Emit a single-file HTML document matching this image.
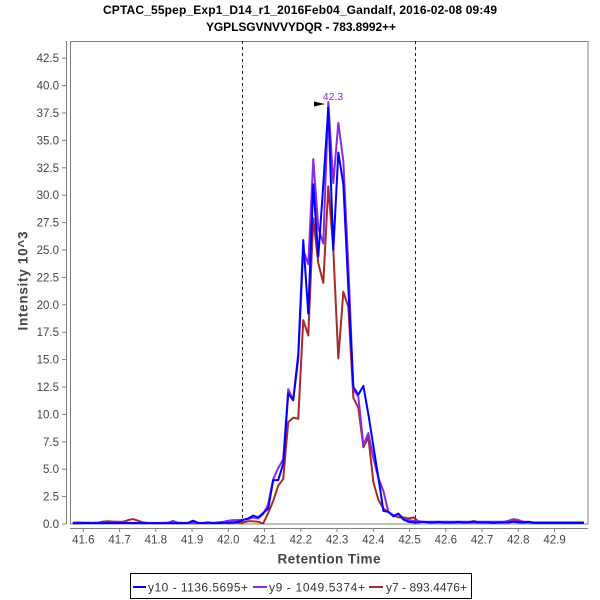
<!DOCTYPE html>
<html><head><meta charset="utf-8"><style>
html,body{margin:0;padding:0;background:#fff;}
svg{display:block;font-family:"Liberation Sans",sans-serif;}
</style></head><body>
<svg width="600" height="600" viewBox="0 0 600 600" xmlns="http://www.w3.org/2000/svg">
<rect width="600" height="600" fill="#fff"/>
<!-- titles -->
<text x="300" y="14" text-anchor="middle" font-size="12" font-weight="bold" fill="#000" textLength="394">CPTAC_55pep_Exp1_D14_r1_2016Feb04_Gandalf, 2016-02-08 09:49</text>
<text x="301" y="31" text-anchor="middle" font-size="12" font-weight="bold" fill="#000" textLength="190">YGPLSGVNVVYDQR - 783.8992++</text>

<!-- plot border -->
<rect x="70.5" y="41.5" width="517.5" height="482.5" fill="#fff" stroke="#808080" stroke-width="1"/>
<!-- axes -->
<line x1="66.5" y1="41" x2="66.5" y2="524" stroke="#808080" stroke-width="1"/>
<line x1="70" y1="528.5" x2="588" y2="528.5" stroke="#808080" stroke-width="1"/>

<!-- y ticks -->
<g stroke="#808080" stroke-width="1">
<line x1="62" x2="66" y1="524" y2="524"/><line x1="62" x2="66" y1="496.6" y2="496.6"/>
<line x1="62" x2="66" y1="469.2" y2="469.2"/><line x1="62" x2="66" y1="441.8" y2="441.8"/>
<line x1="62" x2="66" y1="414.4" y2="414.4"/><line x1="62" x2="66" y1="387" y2="387"/>
<line x1="62" x2="66" y1="359.6" y2="359.6"/><line x1="62" x2="66" y1="332.2" y2="332.2"/>
<line x1="62" x2="66" y1="304.8" y2="304.8"/><line x1="62" x2="66" y1="277.4" y2="277.4"/>
<line x1="62" x2="66" y1="250" y2="250"/><line x1="62" x2="66" y1="222.6" y2="222.6"/>
<line x1="62" x2="66" y1="195.2" y2="195.2"/><line x1="62" x2="66" y1="167.8" y2="167.8"/>
<line x1="62" x2="66" y1="140.4" y2="140.4"/><line x1="62" x2="66" y1="113" y2="113"/>
<line x1="62" x2="66" y1="85.6" y2="85.6"/><line x1="62" x2="66" y1="58.2" y2="58.2"/>
</g>
<g font-size="11.5" fill="#444" text-anchor="end">
<text x="59" y="528">0.0</text><text x="59" y="500.6">2.5</text>
<text x="59" y="473.2">5.0</text><text x="59" y="445.8">7.5</text>
<text x="59" y="418.4">10.0</text><text x="59" y="391">12.5</text>
<text x="59" y="363.6">15.0</text><text x="59" y="336.2">17.5</text>
<text x="59" y="308.8">20.0</text><text x="59" y="281.4">22.5</text>
<text x="59" y="254">25.0</text><text x="59" y="226.6">27.5</text>
<text x="59" y="199.2">30.0</text><text x="59" y="171.8">32.5</text>
<text x="59" y="144.4">35.0</text><text x="59" y="117">37.5</text>
<text x="59" y="89.6">40.0</text><text x="59" y="62.2">42.5</text>
</g>

<!-- x ticks -->
<g stroke="#808080" stroke-width="1">
<line x1="83.3" x2="83.3" y1="528" y2="532"/><line x1="119.55" x2="119.55" y1="528" y2="532"/>
<line x1="155.8" x2="155.8" y1="528" y2="532"/><line x1="192.05" x2="192.05" y1="528" y2="532"/>
<line x1="228.3" x2="228.3" y1="528" y2="532"/><line x1="264.55" x2="264.55" y1="528" y2="532"/>
<line x1="300.8" x2="300.8" y1="528" y2="532"/><line x1="337.05" x2="337.05" y1="528" y2="532"/>
<line x1="373.3" x2="373.3" y1="528" y2="532"/><line x1="409.55" x2="409.55" y1="528" y2="532"/>
<line x1="445.8" x2="445.8" y1="528" y2="532"/><line x1="482.05" x2="482.05" y1="528" y2="532"/>
<line x1="518.3" x2="518.3" y1="528" y2="532"/><line x1="554.55" x2="554.55" y1="528" y2="532"/>
</g>
<g font-size="11.5" fill="#444" text-anchor="middle">
<text x="83.3" y="543.5">41.6</text><text x="119.55" y="543.5">41.7</text>
<text x="155.8" y="543.5">41.8</text><text x="192.05" y="543.5">41.9</text>
<text x="228.3" y="543.5">42.0</text><text x="264.55" y="543.5">42.1</text>
<text x="300.8" y="543.5">42.2</text><text x="337.05" y="543.5">42.3</text>
<text x="373.3" y="543.5">42.4</text><text x="409.55" y="543.5">42.5</text>
<text x="445.8" y="543.5">42.6</text><text x="482.05" y="543.5">42.7</text>
<text x="518.3" y="543.5">42.8</text><text x="554.55" y="543.5">42.9</text>
</g>

<!-- axis titles -->
<text x="329" y="563.5" text-anchor="middle" font-size="13.5" font-weight="bold" fill="#444" textLength="103">Retention Time</text>
<text transform="translate(27.5,281) rotate(-90)" x="0" y="0" text-anchor="middle" font-size="13.5" font-weight="bold" fill="#444" textLength="99">Intensity 10^3</text>

<!-- dashed boundary lines -->
<line x1="242.5" y1="41" x2="242.5" y2="524" stroke="#222" stroke-width="1" stroke-dasharray="3,3"/>
<line x1="415.5" y1="41" x2="415.5" y2="524" stroke="#222" stroke-width="1" stroke-dasharray="3,3"/>

<!-- series -->
<g transform="translate(72.8,524) scale(5.01,-10.96)" fill="none" stroke-linejoin="round">
<polyline vector-effect="non-scaling-stroke" stroke="#a52a2a" stroke-width="2" points="0,0.05 1,0.05 2,0.1 3,0.1 4,0.1 5,0.12 6,0.22 7,0.25 8,0.22 9,0.2 10,0.2 11,0.35 12,0.45 13,0.3 14,0.15 15,0.08 16,0.08 17,0.08 18,0.08 19,0.08 20,0.08 21,0.08 22,0.08 23,0.08 24,0.08 25,0.08 26,0.08 27,0.08 28,0.08 29,0.08 30,0.1 31,0.1 32,0.12 33,0.12 34,0.15 35,0.25 36,0.25 37,0.2 38,0.05 39,1.0 40,2.1 41,3.5 42,4.1 43,9.3 44,9.7 45,9.6 46,18.6 47,17.2 48,27.9 49,23.8 50,22.0 51,30.8 52,25.0 53,15.1 54,21.2 55,19.8 56,11.5 57,10.6 58,7.0 59,7.9 60,3.8 61,2.2 62,1.4 63,1.1 64,0.8 65,0.6 66,0.6 67,0.5 68,0.6 69,0.25 70,0.2 71,0.15 72,0.15 73,0.15 74,0.15 75,0.15 76,0.15 77,0.15 78,0.15 79,0.15 80,0.15 81,0.15 82,0.15 83,0.15 84,0.15 85,0.15 86,0.15 87,0.2 88,0.3 89,0.2 90,0.15 91,0.15 92,0.1 93,0.1 94,0.1 95,0.1 96,0.1 97,0.1 98,0.1 99,0.1 100,0.1 101,0.1 102,0.1"/>
<polyline vector-effect="non-scaling-stroke" stroke="#8a2be2" stroke-width="2" points="0,0.1 1,0.15 2,0.12 3,0.1 4,0.1 5,0.1 6,0.1 7,0.1 8,0.1 9,0.1 10,0.1 11,0.1 12,0.1 13,0.1 14,0.1 15,0.1 16,0.1 17,0.1 18,0.1 19,0.12 20,0.28 21,0.12 22,0.1 23,0.1 24,0.15 25,0.1 26,0.1 27,0.12 28,0.1 29,0.15 30,0.2 31,0.3 32,0.35 33,0.35 34,0.4 35,0.45 36,0.6 37,0.5 38,0.9 39,1.8 40,4.1 41,5.1 42,5.9 43,12.3 44,11.3 45,15.0 46,25.0 47,23.7 48,33.3 49,27.0 50,25.6 51,38.5 52,31.1 53,36.6 54,33.1 55,23.5 56,12.3 57,11.6 58,7.2 59,8.3 60,6.0 61,4.2 62,3.0 63,1.1 64,0.8 65,0.9 66,0.5 67,0.35 68,0.3 69,0.25 70,0.2 71,0.2 72,0.2 73,0.2 74,0.2 75,0.2 76,0.2 77,0.2 78,0.2 79,0.2 80,0.2 81,0.2 82,0.2 83,0.2 84,0.2 85,0.2 86,0.2 87,0.3 88,0.45 89,0.35 90,0.2 91,0.2 92,0.15 93,0.15 94,0.15 95,0.15 96,0.15 97,0.15 98,0.15 99,0.15 100,0.15 101,0.15 102,0.15"/>
<polyline vector-effect="non-scaling-stroke" stroke="#0000ff" stroke-width="2" points="0,0.08 1,0.08 2,0.08 3,0.1 4,0.08 5,0.08 6,0.08 7,0.1 8,0.08 9,0.08 10,0.08 11,0.1 12,0.08 13,0.08 14,0.08 15,0.08 16,0.08 17,0.08 18,0.08 19,0.08 20,0.08 21,0.08 22,0.08 23,0.1 24,0.3 25,0.1 26,0.08 27,0.15 28,0.08 29,0.08 30,0.12 31,0.1 32,0.15 33,0.2 34,0.37 35,0.5 36,0.77 37,0.6 38,1.0 39,1.4 40,4.0 41,4.0 42,5.5 43,11.9 44,11.3 45,15.5 46,25.9 47,19.2 48,31.0 49,24.4 50,31.0 51,38.0 52,25.0 53,33.9 54,31.0 55,21.5 56,12.5 57,11.8 58,12.6 59,10.0 60,7.1 61,4.2 62,1.2 63,1.1 64,0.7 65,0.95 66,0.4 67,0.2 68,0.15 69,0.15 70,0.2 71,0.15 72,0.15 73,0.2 74,0.15 75,0.15 76,0.15 77,0.2 78,0.15 79,0.15 80,0.25 81,0.15 82,0.15 83,0.15 84,0.1 85,0.15 86,0.15 87,0.15 88,0.2 89,0.15 90,0.15 91,0.2 92,0.1 93,0.1 94,0.1 95,0.1 96,0.1 97,0.1 98,0.1 99,0.1 100,0.1 101,0.1 102,0.1"/>
</g>

<!-- peak annotation -->
<polygon points="314,101.5 325,104 314,106.5" fill="#000"/>
<text x="333" y="100" text-anchor="middle" font-size="10.5" fill="#8a2be2">42.3</text>

<!-- legend -->
<rect x="130.5" y="573.5" width="341" height="25" fill="#fff" stroke="#000" stroke-width="1"/>
<line x1="133" y1="587" x2="146" y2="587" stroke="#0000ff" stroke-width="2"/>
<text x="148" y="591.5" font-size="12" fill="#333" textLength="100">y10 - 1136.5695+</text>
<line x1="253" y1="587" x2="267" y2="587" stroke="#8a2be2" stroke-width="2"/>
<text x="269" y="591.5" font-size="12" fill="#333" textLength="96">y9 - 1049.5374+</text>
<line x1="369" y1="587" x2="383" y2="587" stroke="#a52a2a" stroke-width="2"/>
<text x="386" y="591.5" font-size="12" fill="#333" textLength="81">y7 - 893.4476+</text>
</svg>
</body></html>
